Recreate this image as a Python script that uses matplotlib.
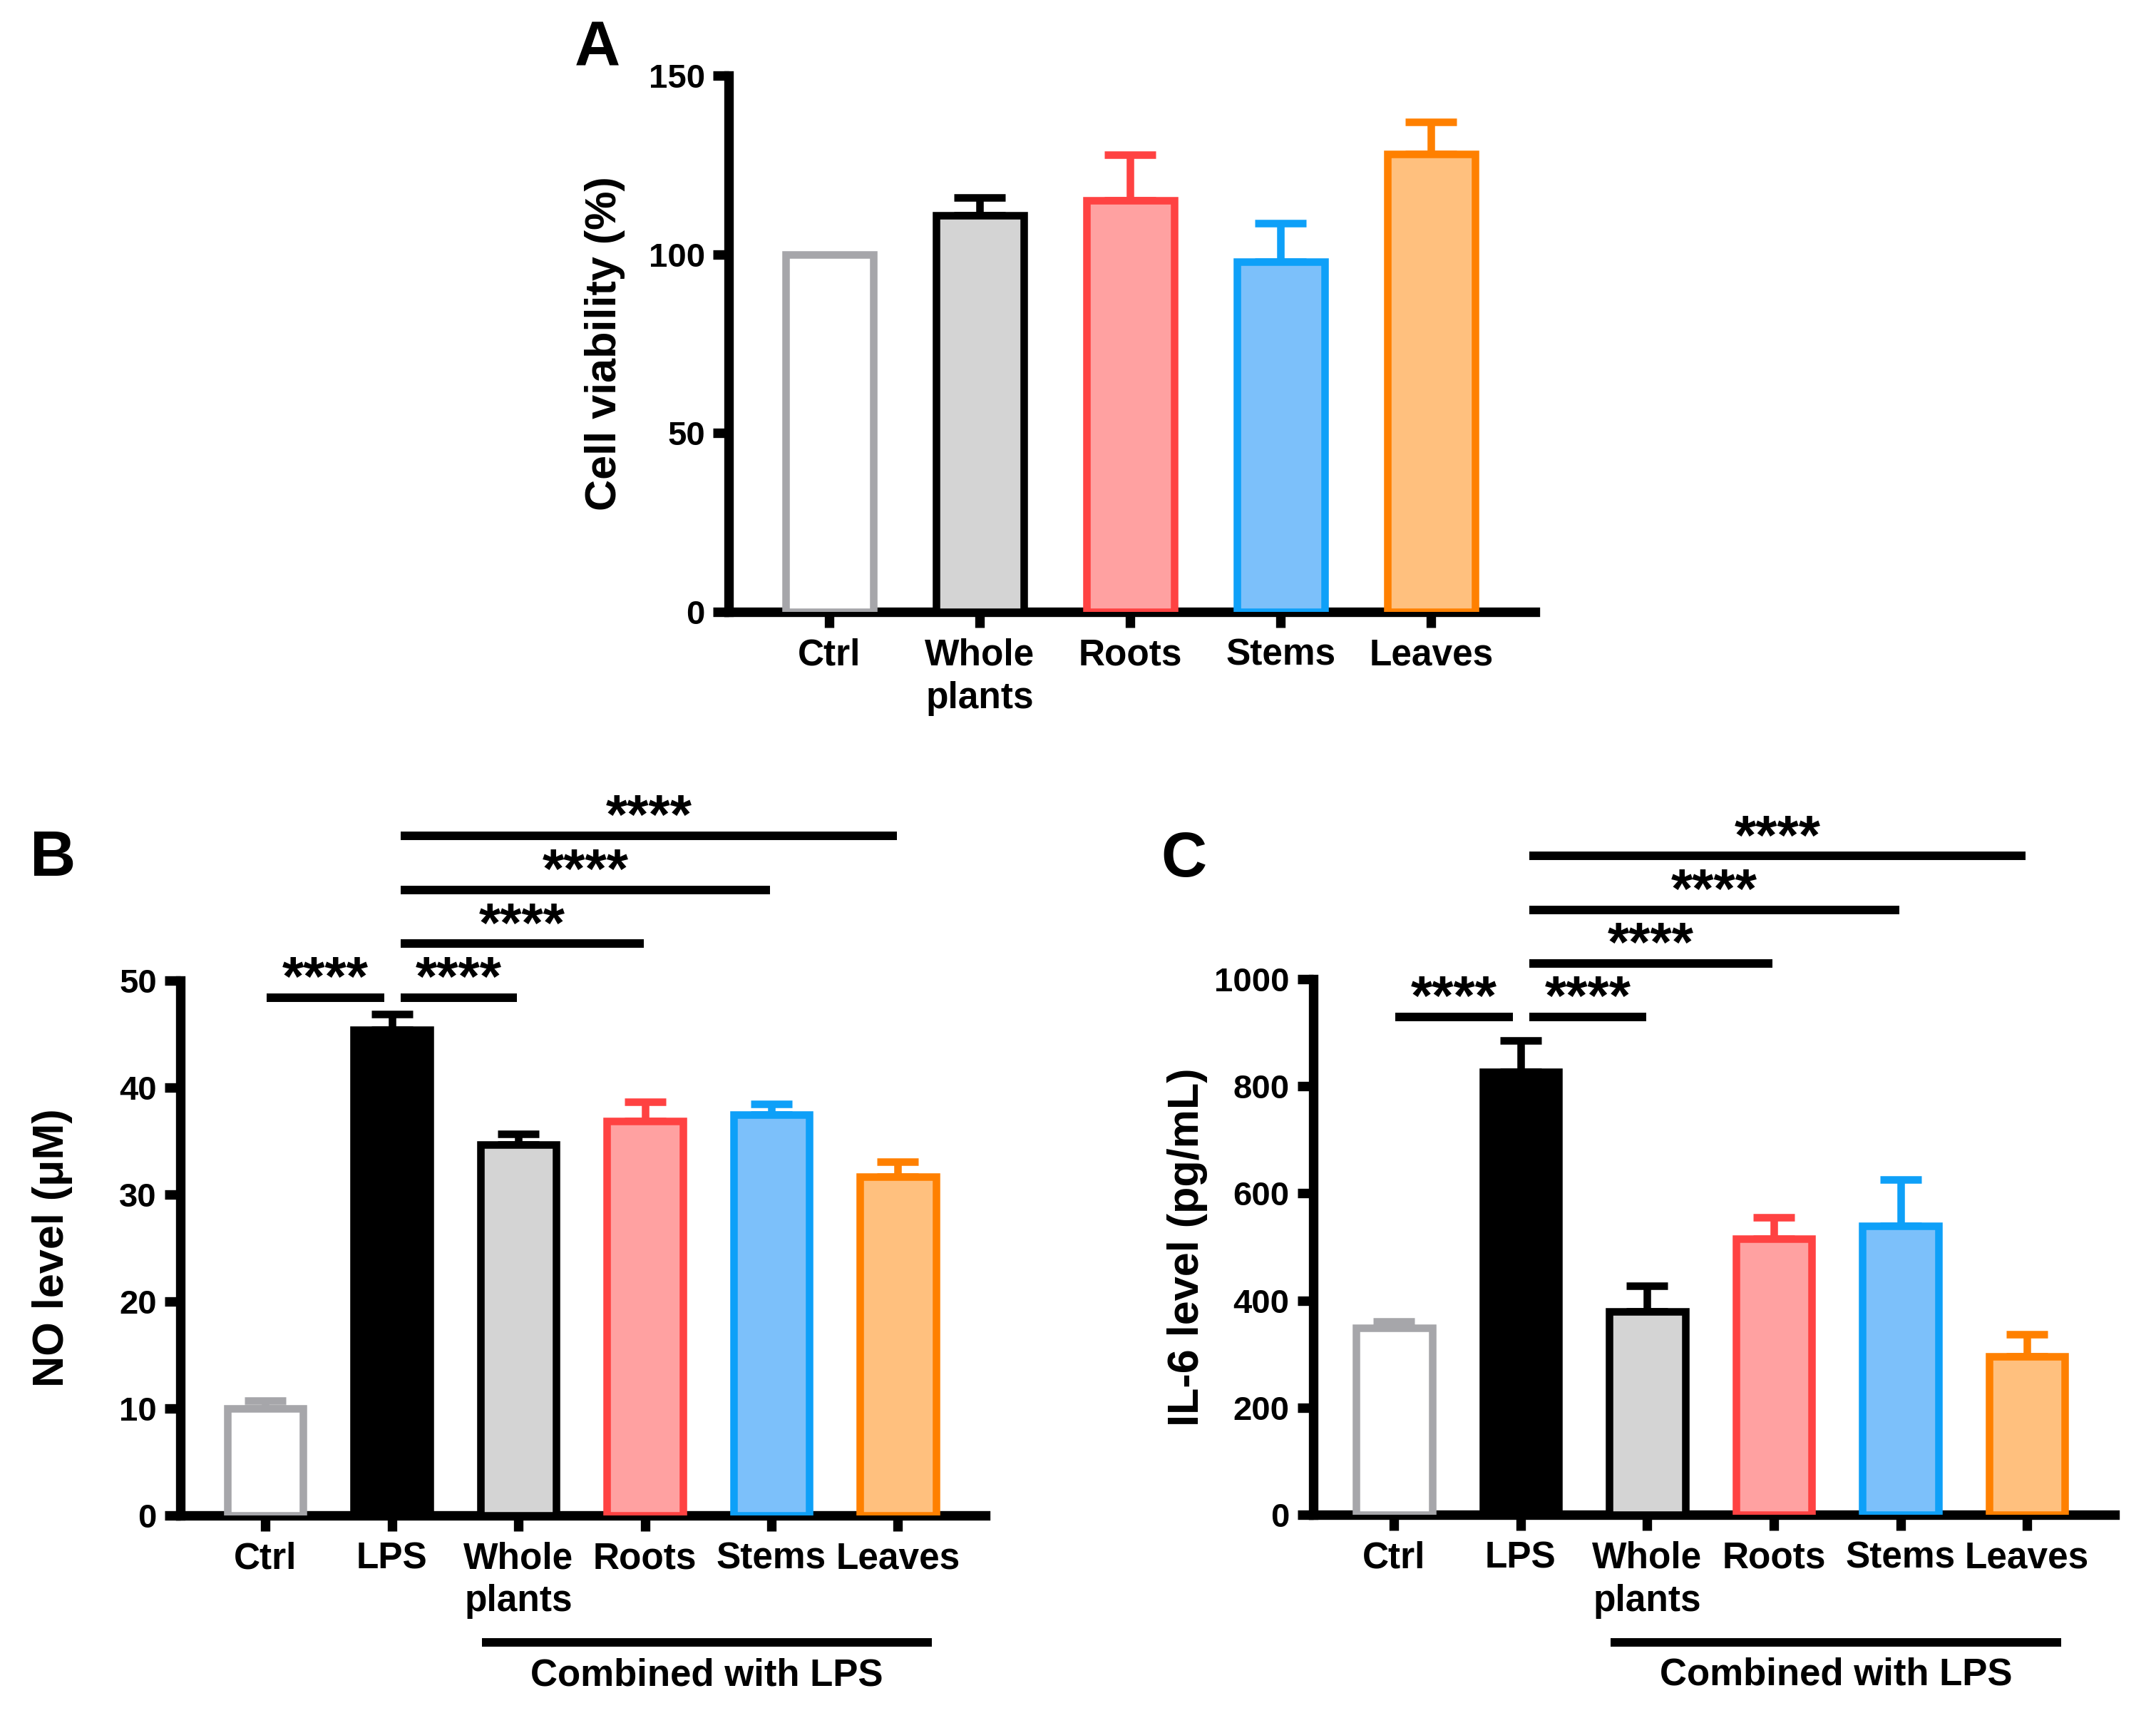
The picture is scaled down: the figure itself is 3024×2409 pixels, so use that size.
import numpy as np
import matplotlib.pyplot as plt

plt.rcParams["font.family"] = ["Liberation Sans", "DejaVu Sans"]
plt.rcParams["font.weight"] = "bold"

# panel A: cell viability
groups_a = ["Ctrl", "Whole\nplants", "Roots", "Stems", "Leaves"]
viability = [100, 111, 115, 98, 128]
viability_err = [0, 4.8, 12.9, 10.8, 9]

# panels B and C
groups_bc = ["Ctrl", "LPS", "Whole\nplants", "Roots", "Stems", "Leaves"]
no_level = [10, 45.4, 34.7, 36.9, 37.5, 31.7]
no_err = [0.7, 1.5, 1.0, 1.8, 1.0, 1.4]
il6_level = [349, 827, 380, 516, 539, 296]
il6_err = [12, 58, 47, 40, 87, 41]

comparisons = [(0, 1), (1, 2), (1, 3), (1, 4), (1, 5)]
comparison_levels = [0, 0, 1, 2, 3]
comparison_text = "****"

EDGE_A = ["#A6A6AA", "black", "#FF4242", "#0EA0F8", "#FF8000"]
FILL_A = ["white", "#D4D4D4", "#FFA1A1", "#7CC0FA", "#FFC07E"]
EDGE_BC = ["#A6A6AA", "black", "black", "#FF4242", "#0EA0F8", "#FF8000"]
FILL_BC = ["white", "black", "#D4D4D4", "#FFA1A1", "#7CC0FA", "#FFC07E"]

SPINE_W = 4.8


def style_axes(ax, ymax, yticks):
    for side in ("top", "right"):
        ax.spines[side].set_visible(False)
    for side in ("left", "bottom"):
        ax.spines[side].set_linewidth(SPINE_W)
    ax.set_ylim(0, ymax)
    ax.set_yticks(yticks)
    ax.tick_params(axis="both", width=SPINE_W, length=8, pad=4)
    ax.tick_params(axis="y", labelsize=17)
    ax.tick_params(axis="x", labelsize=18.5, pad=5)


def draw_bars(ax, labels, values, errors, fills, edges, width, capsize):
    x = np.arange(len(labels))
    ax.bar(x, values, width=width, color=fills, edgecolor=edges,
           linewidth=3.8, zorder=3)
    for xi, v, e, c in zip(x, values, errors, edges):
        if e > 0:
            ax.errorbar(xi, v, yerr=[[0], [e]], fmt="none", ecolor=c,
                        elinewidth=3.8, capsize=capsize, capthick=3.8, zorder=2)
    ax.set_xticks(x)
    ax.set_xticklabels(labels, linespacing=1.3)


def sig_bars(ax, ymax, base, step):
    for (i, j), lev in zip(comparisons, comparison_levels):
        x1 = i + (0.07 if i == 1 else 0.01)
        x2 = j - (0.06 if j == 1 else 0.01)
        y = ymax * (base + step * lev)
        ax.plot([x1, x2], [y, y], color="black", lw=4.3, clip_on=False,
                solid_capstyle="butt")
        ax.annotate(comparison_text, ((x1 + x2) / 2, y), xytext=(0, 1),
                    textcoords="offset points", ha="center", va="baseline",
                    fontsize=28, fontweight="bold", annotation_clip=False)


def combined_label(ax):
    tr = ax.get_xaxis_transform()
    ax.plot([1.71, 5.27], [-0.238, -0.238], color="black", lw=4.3,
            transform=tr, clip_on=False, solid_capstyle="butt")
    ax.text(3.49, -0.299, "Combined with LPS", transform=tr, ha="center",
            va="center", fontsize=19, fontweight="bold")


fig = plt.figure(figsize=(15.12, 12.045), dpi=200)

# A
ax_a = fig.add_axes([0.338, 0.6438, 0.374, 0.3122])
draw_bars(ax_a, groups_a, viability, viability_err, FILL_A, EDGE_A, 0.58, 13)
style_axes(ax_a, 150, [0, 50, 100, 150])
ax_a.set_xlim(-0.67, 4.69)
ax_a.set_ylabel("Cell viability (%)", fontsize=22, fontweight="bold")
ax_a.yaxis.set_label_coords(-0.128, 0.5)

# B
ax_b = fig.add_axes([0.0837, 0.1179, 0.3733, 0.3113])
draw_bars(ax_b, groups_bc, no_level, no_err, FILL_BC, EDGE_BC, 0.6, 10.5)
style_axes(ax_b, 50, [0, 10, 20, 30, 40, 50])
ax_b.set_xlim(-0.67, 5.69)
ax_b.set_ylabel("NO level (\u03bcM)", fontsize=22, fontweight="bold")
ax_b.yaxis.set_label_coords(-0.134, 0.5)
sig_bars(ax_b, 50, 0.968, 0.101)
combined_label(ax_b)

# C
ax_c = fig.add_axes([0.609, 0.1183, 0.3717, 0.3117])
draw_bars(ax_c, groups_bc, il6_level, il6_err, FILL_BC, EDGE_BC, 0.6, 10.5)
style_axes(ax_c, 1000, [0, 200, 400, 600, 800, 1000])
ax_c.set_xlim(-0.64, 5.69)
ax_c.set_ylabel("IL-6 level (pg/mL)", fontsize=22, fontweight="bold")
ax_c.yaxis.set_label_coords(-0.131, 0.5)
sig_bars(ax_c, 1000, 0.930, 0.1)
combined_label(ax_c)

fig.text(0.277, 0.971, "A", fontsize=32, fontweight="bold", ha="center", va="center")
fig.text(0.0245, 0.4998, "B", fontsize=32, fontweight="bold", ha="center", va="center")
fig.text(0.549, 0.4994, "C", fontsize=32, fontweight="bold", ha="center", va="center")

fig.savefig("out.png", dpi=200)
